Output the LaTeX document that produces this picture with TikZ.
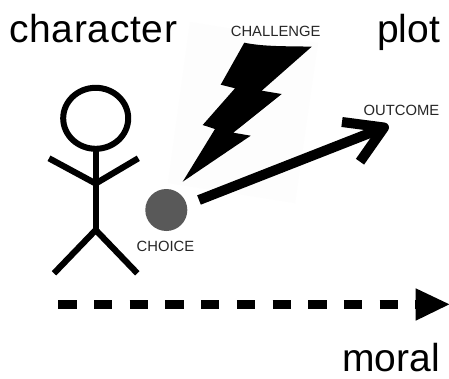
\documentclass[tikz,border=0pt]{standalone}
\usepackage{fontspec}
\setmainfont{Liberation Sans}
\usetikzlibrary{arrows.meta,shapes.geometric}
\tikzset{
  big/.style={font=\fontsize{39}{39}\selectfont,anchor=base,inner sep=0pt,text=black},
  small/.style={font=\fontsize{14.8}{15}\selectfont,anchor=base,inner sep=0pt,text=black!85},
  limb/.style={line width=6.2pt,black,line cap=butt,line join=miter},
  fat/.style={line width=10pt,black,line join=round},
}
\begin{document}
\begin{tikzpicture}[x=1pt,y=-1pt]
\useasboundingbox (0,0) rectangle (449,378);
\fill[white] (0,0) rectangle (449,378);
% faint image background of the bolt
\fill[black!0.8] (190,22) -- (318,43) -- (295,203) -- (168,183) -- cycle;
% lightning
\fill[black] (244.3,42.7) .. controls (265,47) and (290,46) .. (311.7,46.7)
  -- (261.7,90.7) -- (281.7,94) -- (233.3,132.7) -- (250.7,135.7) -- (182.7,181.7)
  -- (215,129) -- (202.7,125) -- (235,88.3) -- (220.7,84.7) -- cycle;
% stick figure
\node[ellipse,draw=black,line width=6pt,minimum width=65pt,minimum height=61pt,inner sep=0pt,outer sep=0pt] (head) at (95.7,118.3) {};
\coordinate (hip) at (95.7,230);
\coordinate (shoulder) at (95.7,183.5);
\coordinate (handL) at (49,158.3);
\coordinate (handR) at (138.3,158.3);
\coordinate (footL) at (54,273.3);
\coordinate (footR) at (137.3,273.3);
\draw[limb] (head.south) -- (hip);
\draw[limb] (handL) -- (shoulder) -- (handR);
\draw[limb] (footL) -- (hip) -- (footR);
% choice
\node[circle,fill=black!65,minimum size=42pt,inner sep=0pt] (choice) at (166.3,210) {};
\node[small] (choicelabel) at (165.5,251.5) {CHOICE};
% outcome arrow
\coordinate (start) at (199,200);
\coordinate (tip) at (384,127.5);
\coordinate (armA) at (342,122);
\coordinate (armB) at (360,161.7);
\draw[fat] (start) -- (tip);
\draw[fat] (armA) -- (tip) -- (armB);
% labels
\node[big] (character) at (93.3,42.7) {\addfontfeatures{LetterSpace=1.6}character};
\node[big] (plot) at (408.7,42.7) {plot};
\node[big] (moral) at (391,371.5) {moral};
\node[small] (challenge) at (275.7,36.7) {CHALLENGE};
\node[small] (outcome) at (401.5,115) {OUTCOME};
% moral arrow
\coordinate (dashA) at (58.3,304.3);
\coordinate (dashB) at (415.7,304.3);
\draw[line width=9pt,black,dash pattern=on 18.3pt off 17.4pt] (dashA) -- (dashB);
\fill[black] (415.7,288.3) -- (449.3,304.3) -- (415.7,320.7) -- cycle;
\end{tikzpicture}
\end{document}
